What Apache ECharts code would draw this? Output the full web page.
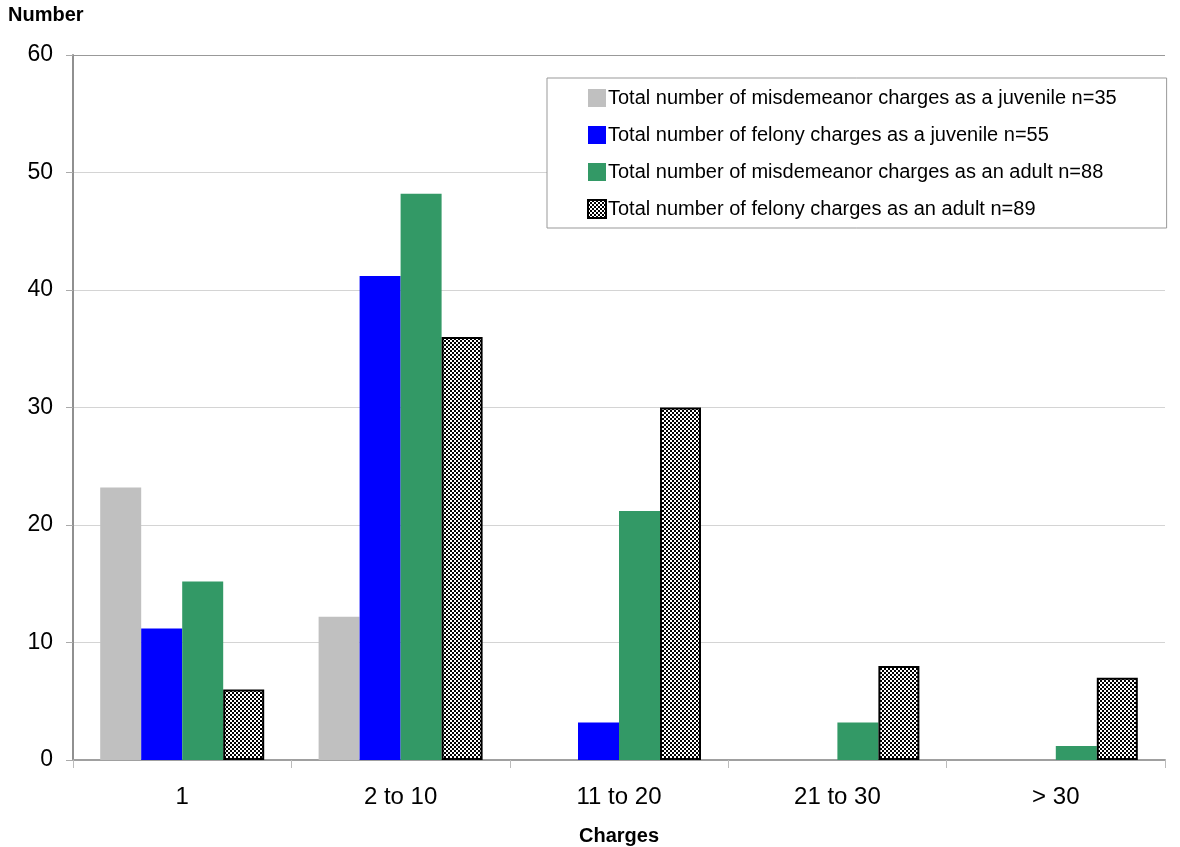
<!DOCTYPE html>
<html>
<head>
<meta charset="utf-8">
<script src="https://cdn.jsdelivr.net/npm/echarts@6/dist/echarts.min.js"></script>
<style>
html,body{margin:0;padding:0;background:#fff;}
#main{width:1180px;height:847px;}
</style>
</head>
<body>
<div id="main"></div>
<script>
const categories = ['1', '2 to 10', '11 to 20', '21 to 30', '> 30'];
const misdemeanorJuvenile = [23.2, 12.2, 0, 0, 0];
const felonyJuvenile = [11.2, 41.2, 3.2, 0, 0];
const misdemeanorAdult = [15.2, 48.2, 21.2, 3.2, 1.2];
const felonyAdult = [6, 36, 30, 8, 7];
const seriesNames = [
  'Total number of misdemeanor charges as a juvenile n=35',
  'Total number of felony charges as a juvenile n=55',
  'Total number of misdemeanor charges as an adult n=88',
  'Total number of felony charges as an adult n=89'
];
const yTicks = [0, 10, 20, 30, 40, 50, 60];

// checkerboard pattern
const pc = document.createElement('canvas');
pc.width = 4; pc.height = 4;
const pctx = pc.getContext('2d');
pctx.fillStyle = '#fff'; pctx.fillRect(0, 0, 4, 4);
pctx.fillStyle = '#000';
pctx.fillRect(0, 0, 2, 2); pctx.fillRect(2, 2, 2, 2);

const font = '"Liberation Sans", Arial, sans-serif';
const chart = echarts.init(document.getElementById('main'), null, {renderer: 'canvas'});

const barW = 41;
function mkSeries(name, data, style) {
  return {
    type: 'bar', name: name, data: data, barWidth: barW, barGap: '0%',
    itemStyle: style, emphasis: {disabled: true}, animation: false
  };
}

chart.setOption({
  animation: false,
  textStyle: {fontFamily: font},
  title: {
    text: 'Number', left: 8, top: 5, padding: 0,
    textStyle: {fontSize: 20, fontWeight: 'bold', color: '#000', fontFamily: font}
  },
  grid: {left: 73, right: 15, top: 55, bottom: 87, outerBoundsMode: 'none', containLabel: false},
  legend: {
    orient: 'vertical', left: 547, top: 78,
    padding: [10, 50, 9, 40],
    itemWidth: 18, itemHeight: 18, itemGap: 17,
    borderColor: '#999', borderWidth: 1, backgroundColor: '#fff',
    textStyle: {fontSize: 20, lineHeight: 18, color: '#000', fontFamily: font, padding: [0, 0, 0, -3]},
    data: seriesNames.map(n => ({name: n, icon: 'rect'}))
  },
  xAxis: {
    type: 'category', data: categories,
    name: 'Charges', nameLocation: 'middle', nameGap: 66,
    nameTextStyle: {fontSize: 20, fontWeight: 'bold', color: '#000', fontFamily: font},
    axisLine: {lineStyle: {color: '#a0a0a0', width: 2}},
    axisTick: {show: true, length: 8, lineStyle: {color: '#bbb'}},
    axisLabel: {fontSize: 24, color: '#000', margin: 25, fontFamily: font},
    splitLine: {show: false}
  },
  yAxis: {
    type: 'value', min: yTicks[0], max: yTicks[yTicks.length - 1], interval: 10,
    axisLine: {show: true, lineStyle: {color: '#909090', width: 2}},
    axisTick: {show: true, length: 7, lineStyle: {color: '#aaa'}},
    axisLabel: {fontSize: 23, color: '#000', margin: 20, fontFamily: font},
    splitLine: {show: true, lineStyle: {color: ['#d4d4d4', '#d4d4d4', '#d4d4d4', '#d4d4d4', '#d4d4d4', '#d4d4d4', '#999'], width: 1}}
  },
  series: [
    mkSeries(seriesNames[0], misdemeanorJuvenile, {color: '#c0c0c0'}),
    mkSeries(seriesNames[1], felonyJuvenile, {color: '#0000ff'}),
    mkSeries(seriesNames[2], misdemeanorAdult, {color: '#339966'}),
    mkSeries(seriesNames[3], felonyAdult, {color: {image: pc, repeat: 'repeat'}, borderColor: '#000', borderWidth: 2})
  ]
});
</script>
</body>
</html>
